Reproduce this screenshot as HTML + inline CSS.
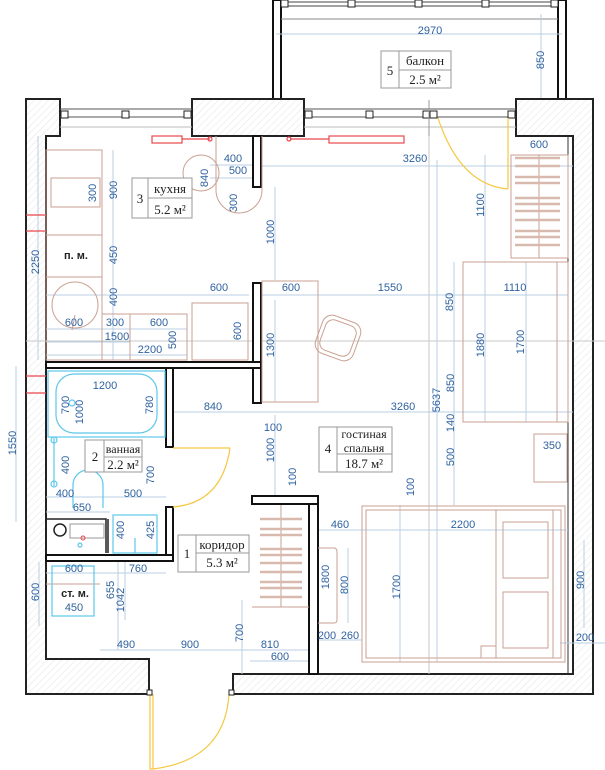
<!DOCTYPE html>
<html><head><meta charset="utf-8"><style>
html,body{margin:0;padding:0;background:#fff;}
svg{display:block}
.w{fill:url(#h);stroke:#222;stroke-width:2}
.iw{fill:#fff;stroke:#111;stroke-width:2}
.d{stroke:#b9cfe5;stroke-width:1;fill:none}
.g{stroke:#c8c8c8;stroke-width:1;fill:none}
.t{fill:#2f62a0;font-family:"Liberation Sans",sans-serif;font-size:11px;text-anchor:middle}
.f{fill:none;stroke:#c9a091;stroke-width:1}
.c{fill:none;stroke:#5cc8ea;stroke-width:1.2}
.y{fill:none;stroke:#f5c842;stroke-width:1.2}
.r{fill:none;stroke:#e8484d;stroke-width:1.2}
.lb{fill:#fff;stroke:#999;stroke-width:1}
.s{font-family:"Liberation Serif",serif;font-size:13px;fill:#222;text-anchor:middle}
.k{font-family:"Liberation Sans",sans-serif;font-size:11px;fill:#222;text-anchor:middle;font-weight:bold}
</style></head><body>
<svg width="605" height="770" viewBox="0 0 605 770" xmlns="http://www.w3.org/2000/svg">
<defs><pattern id="h" width="5" height="5" patternUnits="userSpaceOnUse" patternTransform="rotate(45)"><rect width="5" height="5" fill="#fff"/><line x1="0" y1="0" x2="0" y2="5" stroke="#e4e4e4" stroke-width="1"/></pattern></defs>

<!-- balcony -->
<rect x="273" y="0" width="8" height="99" class="iw" stroke-width="1.5"/>
<rect x="558" y="0" width="8" height="99" class="iw" stroke-width="1.5"/>
<line x1="281" y1="2" x2="558" y2="2" stroke="#444"/><line x1="281" y1="6" x2="558" y2="6" stroke="#444"/>
<g fill="#fff" stroke="#222"><rect x="281" y="0" width="7" height="7"/><rect x="348" y="0" width="7" height="7"/><rect x="415" y="0" width="7" height="7"/><rect x="482" y="0" width="7" height="7"/><rect x="551" y="0" width="7" height="7"/></g>
<line x1="281" y1="19" x2="558" y2="19" stroke="#888"/>
<line class="d" x1="276" y1="34" x2="562" y2="34"/>
<text class="t" x="430" y="34">2970</text>
<line class="d" x1="541" y1="14" x2="541" y2="100"/>
<text class="t" transform="translate(544,60) rotate(-90)">850</text>
<rect class="lb" x="381" y="51" width="70" height="37"/><line x1="399" y1="51" x2="399" y2="88" stroke="#999"/><line x1="399" y1="70" x2="451" y2="70" stroke="#999"/>
<text class="s" x="390" y="75">5</text><text class="s" x="425" y="65">балкон</text><text class="s" x="425" y="84">2.5 м²</text>

<!-- outer walls -->
<path class="w" d="M26,99 H60 V136 H46 V659 H149 V694 H26 Z"/>
<rect class="w" x="192" y="99" width="112" height="37"/>
<path class="w" d="M516,99 H593 V694 H233 V674 H573 V136 H516 Z"/>
<!-- windows -->
<g stroke="#555" fill="none"><line x1="60" y1="109" x2="192" y2="109"/><line x1="60" y1="117" x2="192" y2="117"/><line x1="60" y1="127" x2="192" y2="127" stroke="#bbb"/>
<line x1="304" y1="109" x2="516" y2="109"/><line x1="304" y1="117" x2="516" y2="117"/><line x1="304" y1="127" x2="516" y2="127" stroke="#bbb"/></g>
<g fill="#fff" stroke="#222"><rect x="61" y="111" width="7" height="7"/><rect x="122" y="111" width="7" height="7"/><rect x="184" y="111" width="7" height="7"/>
<rect x="305" y="111" width="7" height="7"/><rect x="366" y="111" width="7" height="7"/><rect x="423" y="111" width="7" height="7"/><rect x="430" y="111" width="7" height="7"/><rect x="508" y="111" width="7" height="7"/></g>
<line x1="429" y1="100" x2="429" y2="136" stroke="#999"/>
<line x1="568" y1="136" x2="568" y2="674" stroke="#333"/>

<!-- guide lines -->
<line class="g" x1="26" y1="341" x2="605" y2="341"/>
<line class="g" x1="429" y1="136" x2="429" y2="674"/>

<!-- dimension lines -->
<g class="d">
<line x1="262" y1="166" x2="573" y2="166"/>
<line x1="210" y1="165" x2="262" y2="165"/><line x1="210" y1="178" x2="262" y2="178"/>
<line x1="46" y1="295" x2="249" y2="295"/><line x1="262" y1="295" x2="568" y2="295"/>
<line x1="46" y1="329" x2="187" y2="329"/><line x1="46" y1="342" x2="130" y2="342"/><line x1="46" y1="355" x2="187" y2="355"/>
<line x1="173" y1="412" x2="573" y2="412"/>
<line x1="46" y1="497" x2="166" y2="497"/><line x1="46" y1="512" x2="110" y2="512"/>
<line x1="318" y1="530" x2="568" y2="530"/>
<line x1="46" y1="573" x2="166" y2="573"/>
<line x1="100" y1="650" x2="250" y2="650"/><line x1="250" y1="650" x2="318" y2="650"/><line x1="250" y1="661" x2="318" y2="661"/>
<line x1="318" y1="640" x2="362" y2="640"/><line x1="560" y1="643" x2="605" y2="643"/>
<line x1="113" y1="150" x2="113" y2="360"/><line x1="38" y1="136" x2="38" y2="360"/><line x1="16" y1="366" x2="16" y2="522"/>
<line x1="275" y1="187" x2="275" y2="280"/><line x1="275" y1="300" x2="275" y2="402"/><line x1="275" y1="415" x2="275" y2="495"/>
<line x1="485" y1="155" x2="485" y2="262"/><line x1="454" y1="262" x2="454" y2="505"/><line x1="485" y1="262" x2="485" y2="422"/><line x1="526" y1="262" x2="526" y2="422"/>
<line x1="437" y1="160" x2="437" y2="662"/><line x1="400" y1="505" x2="400" y2="662"/>
<line x1="348" y1="548" x2="348" y2="623"/><line x1="584" y1="540" x2="584" y2="628"/>
<line x1="242" y1="600" x2="242" y2="674"/><line x1="118" y1="560" x2="118" y2="650"/><line x1="125" y1="560" x2="125" y2="620"/>
<line x1="39" y1="562" x2="39" y2="626"/>
</g>

<!-- interior walls -->
<rect class="iw" x="253" y="136" width="8" height="51"/>
<rect class="iw" x="253" y="283" width="8" height="120"/>
<rect class="iw" x="46" y="362" width="215" height="6"/>
<rect class="iw" x="166" y="368" width="7" height="79"/>
<rect class="iw" x="166" y="507" width="7" height="54"/>
<rect class="iw" x="46" y="555" width="127" height="6"/>
<path d="M46,519 H106 V553" fill="none" stroke="#222" stroke-width="1.5"/><line x1="108" y1="519" x2="108" y2="553" stroke="#222" stroke-width="1.5"/>
<rect class="iw" x="252" y="496" width="66" height="8"/>
<rect class="iw" x="309" y="504" width="9" height="170"/>

<!-- doors -->
<path class="y" d="M508,118 V189 M438,118 Q460,185 508,189"/>
<path class="y" d="M173,448 H230 M230,448 Q222,503 173,507"/>
<path class="y" d="M150,694 V769 H153 V694 M153,769 Q225,760 229,694"/>
<rect x="147" y="690" width="5" height="5" fill="#fff" stroke="#222"/><rect x="229" y="690" width="5" height="5" fill="#fff" stroke="#222"/>

<!-- radiators -->
<rect class="r" x="152" y="136" width="30" height="7"/><line class="r" x1="182" y1="139" x2="210" y2="139"/><circle class="r" cx="210" cy="139" r="2"/>
<rect class="r" x="329" y="136" width="75" height="7"/><line class="r" x1="290" y1="139" x2="329" y2="139"/><circle class="r" cx="289" cy="139" r="2"/>
<g class="r"><line x1="26" y1="215" x2="46" y2="215"/><line x1="26" y1="231" x2="46" y2="231"/><line x1="26" y1="376" x2="46" y2="376"/><line x1="26" y1="393" x2="46" y2="393"/></g>

<!-- kitchen furniture -->
<g class="f">
<rect x="46" y="150" width="56" height="210"/><line x1="46" y1="235" x2="102" y2="235"/><line x1="46" y1="277" x2="102" y2="277"/>
<rect x="51" y="178" width="49" height="29"/>
<circle cx="75" cy="305" r="23"/><line x1="75" y1="315" x2="72" y2="330" />
<rect x="102" y="314" width="85" height="46"/><line x1="130" y1="314" x2="130" y2="360"/>
<rect x="192" y="303" width="56" height="57"/>
<circle cx="201" cy="173" r="18"/>
<path d="M216,136 V190 A23,23 0 0 0 262,190 V136"/>
<!-- living -->
<rect x="262" y="281" width="56" height="121"/>
<rect x="318" y="318" width="40" height="40" rx="10" transform="rotate(20 338 338)"/>
<rect x="322" y="322" width="32" height="32" rx="8" transform="rotate(20 338 338)"/>
<rect x="511" y="155" width="57" height="103"/><line x1="539" y1="155" x2="539" y2="258"/>
<rect x="463" y="262" width="105" height="160"/><line x1="557" y1="262" x2="557" y2="422"/>
<rect x="534" y="434" width="33" height="48"/>
<rect x="362" y="506" width="203" height="156"/><rect x="366" y="510" width="195" height="148"/><line x1="553" y1="510" x2="553" y2="658"/><line x1="496" y1="510" x2="496" y2="658"/>
<rect x="503" y="522" width="45" height="56"/><rect x="503" y="592" width="45" height="56"/>
<path d="M481,658 V646 H496"/>
<path d="M318,548 H334 Q337,548 337,552 V620 Q337,623 334,623 H318"/>
<line x1="281" y1="505" x2="281" y2="607"/><line x1="252" y1="607" x2="309" y2="607"/>
</g>
<g stroke="#d8b9ae" stroke-width="2.5">
<line x1="515" y1="158" x2="560" y2="158"/><line x1="515" y1="166" x2="560" y2="166"/><line x1="515" y1="177" x2="560" y2="177"/><line x1="515" y1="183" x2="560" y2="183"/><line x1="515" y1="198" x2="560" y2="198"/><line x1="515" y1="204" x2="560" y2="204"/><line x1="515" y1="211" x2="560" y2="211"/><line x1="515" y1="220" x2="560" y2="220"/><line x1="515" y1="231" x2="560" y2="231"/><line x1="515" y1="237" x2="560" y2="237"/><line x1="515" y1="245" x2="560" y2="245"/>
<line x1="260" y1="519" x2="302" y2="519"/><line x1="260" y1="529" x2="302" y2="529"/><line x1="260" y1="535" x2="302" y2="535"/><line x1="260" y1="549" x2="302" y2="549"/><line x1="260" y1="555" x2="302" y2="555"/><line x1="260" y1="563" x2="302" y2="563"/><line x1="260" y1="572" x2="302" y2="572"/><line x1="260" y1="582" x2="302" y2="582"/><line x1="260" y1="588" x2="302" y2="588"/><line x1="260" y1="597" x2="302" y2="597"/>
</g>
<line x1="46" y1="584" x2="100" y2="584" class="f"/>

<!-- bathroom -->
<g class="c">
<rect x="48" y="371" width="117" height="66"/>
<rect x="56" y="374" width="101" height="59" rx="18"/>
<circle cx="72" cy="403" r="3"/>
<line x1="54" y1="438" x2="54" y2="486"/><circle cx="54" cy="440" r="3"/><circle cx="54" cy="484" r="3"/>
<path d="M73,508 V485 A15,15 0 0 1 103,485 V508"/>
<rect x="113" y="515" width="44" height="38"/><line x1="135" y1="538" x2="135" y2="553"/>
<rect x="52" y="566" width="42" height="50"/>
<circle cx="80" cy="545" r="2"/>
</g>
<circle cx="60" cy="530" r="6" fill="none" stroke="#222" stroke-width="1.5"/>
<rect x="70" y="524" width="34" height="14" fill="none" stroke="#999"/>
<circle cx="83" cy="538" r="2" fill="none" stroke="#e8484d"/>

<!-- room labels -->
<rect class="lb" x="132" y="178" width="60" height="40"/><line x1="148" y1="178" x2="148" y2="218" stroke="#999"/><line x1="148" y1="198" x2="192" y2="198" stroke="#999"/>
<text class="s" x="140" y="203">3</text><text class="s" x="170" y="193">кухня</text><text class="s" x="170" y="214">5.2 м²</text>
<rect class="lb" x="85" y="440" width="57" height="32"/><line x1="104" y1="440" x2="104" y2="472" stroke="#999"/><line x1="104" y1="457" x2="142" y2="457" stroke="#999"/>
<text class="s" x="95" y="461">2</text><text class="s" x="123" y="453" style="font-size:12px">ванная</text><text class="s" x="123" y="469">2.2 м²</text>
<rect class="lb" x="319" y="427" width="73" height="45"/><line x1="337" y1="427" x2="337" y2="472" stroke="#999"/><line x1="337" y1="454" x2="392" y2="454" stroke="#999"/>
<text class="s" x="328" y="453">4</text><text class="s" x="364" y="438" style="font-size:12px">гостиная</text><text class="s" x="364" y="452" style="font-size:12px">спальня</text><text class="s" x="364" y="468">18.7 м²</text>
<rect class="lb" x="178" y="535" width="71" height="37"/><line x1="196" y1="535" x2="196" y2="572" stroke="#999"/><line x1="196" y1="553" x2="249" y2="553" stroke="#999"/>
<text class="s" x="187" y="558">1</text><text class="s" x="222" y="549">коридор</text><text class="s" x="222" y="567">5.3 м²</text>
<text class="k" x="76" y="259">п. м.</text>
<text class="k" x="75" y="597">ст. м.</text>

<!-- dim texts -->
<g class="t">
<text x="233" y="162">400</text><text x="238" y="174">500</text><text x="415" y="162">3260</text><text x="539" y="148">600</text>
<text x="219" y="291">600</text><text x="291" y="291">600</text><text x="390" y="291">1550</text><text x="515" y="291">1110</text>
<text x="74" y="326">600</text><text x="115" y="326">300</text><text x="159" y="326">600</text><text x="117" y="340">1500</text><text x="150" y="353">2200</text>
<text x="105" y="389">1200</text><text x="213" y="410">840</text><text x="403" y="410">3260</text><text x="273" y="431">100</text><text x="552" y="449">350</text>
<text x="65" y="497">400</text><text x="133" y="497">500</text><text x="82" y="511">650</text>
<text x="340" y="528">460</text><text x="463" y="528">2200</text>
<text x="74" y="572">600</text><text x="138" y="572">760</text><text x="74" y="611">450</text>
<text x="126" y="648">490</text><text x="190" y="648">900</text><text x="270" y="648">810</text><text x="280" y="660">600</text>
<text x="327" y="639">200</text><text x="350" y="639">260</text><text x="585" y="641">200</text>
</g>
<g class="t">
<text transform="translate(208,178) rotate(-90)">840</text>
<text transform="translate(237,203) rotate(-90)">300</text>
<text transform="translate(96,193) rotate(-90)">300</text>
<text transform="translate(117,190) rotate(-90)">900</text>
<text transform="translate(39,262) rotate(-90)">2250</text>
<text transform="translate(117,255) rotate(-90)">450</text>
<text transform="translate(117,297) rotate(-90)">400</text>
<text transform="translate(274,232) rotate(-90)">1000</text>
<text transform="translate(484,205) rotate(-90)">1100</text>
<text transform="translate(453,302) rotate(-90)">850</text>
<text transform="translate(484,345) rotate(-90)">1880</text>
<text transform="translate(524,342) rotate(-90)">1700</text>
<text transform="translate(176,340) rotate(-90)">500</text>
<text transform="translate(241,331) rotate(-90)">600</text>
<text transform="translate(274,345) rotate(-90)">1300</text>
<text transform="translate(69,405) rotate(-90)">700</text>
<text transform="translate(83,412) rotate(-90)">1000</text>
<text transform="translate(153,405) rotate(-90)">780</text>
<text transform="translate(440,400) rotate(-90)">5637</text>
<text transform="translate(454,383) rotate(-90)">850</text>
<text transform="translate(274,450) rotate(-90)">1000</text>
<text transform="translate(454,423) rotate(-90)">140</text>
<text transform="translate(454,457) rotate(-90)">500</text>
<text transform="translate(16,443) rotate(-90)">1550</text>
<text transform="translate(69,465) rotate(-90)">400</text>
<text transform="translate(154,475) rotate(-90)">700</text>
<text transform="translate(296,477) rotate(-90)">100</text>
<text transform="translate(414,487) rotate(-90)">100</text>
<text transform="translate(124,530) rotate(-90)">400</text>
<text transform="translate(154,530) rotate(-90)">425</text>
<text transform="translate(329,577) rotate(-90)">1800</text>
<text transform="translate(348,585) rotate(-90)">800</text>
<text transform="translate(400,587) rotate(-90)">1700</text>
<text transform="translate(584,580) rotate(-90)">900</text>
<text transform="translate(243,633) rotate(-90)">700</text>
<text transform="translate(39,592) rotate(-90)">600</text>
<text transform="translate(114,590) rotate(-90)">655</text>
<text transform="translate(124,600) rotate(-90)">1042</text>
</g>
</svg>
</body></html>
